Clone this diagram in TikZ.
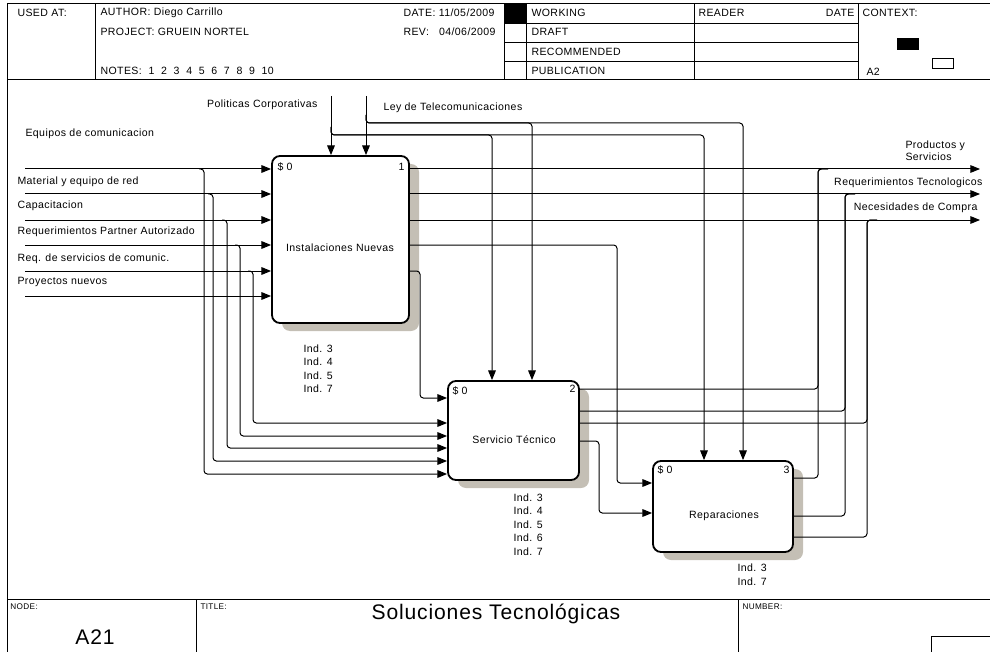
\documentclass[tikz,border=0pt]{standalone}
\usepackage{fontspec}
\setmainfont[LetterSpace=4]{Liberation Sans}
\usetikzlibrary{arrows.meta, positioning, calc}
\definecolor{shadowgray}{RGB}{196,191,181}

\begin{document}
\begin{tikzpicture}[x=0.3mm, y=-0.3mm, line width=0.3mm,
	font=\fontsize{9}{10}\selectfont,
	func/.style={draw, line width=0.55mm, rounded corners=2.4mm, fill=white, inner sep=0pt},
	shade/.style={fill=shadowgray, rounded corners=2.4mm},
	flow/.style={-{Triangle[length=2.9mm, width=2.3mm]}, rounded corners=1mm},
	pipe/.style={rounded corners=1mm},
	lbl/.style={anchor=west, inner sep=0pt},
	tiny/.style={anchor=west, inner sep=0pt, font=\fontsize{7}{8}\selectfont}]
	
	\useasboundingbox (0,0) rectangle (990,652);
	
	% Frame
	\draw (7,4) -- (990,4);
	\draw (7,4) -- (7,652);
	\draw (7,80) -- (990,80);
	\draw (7,599) -- (990,599);
	
	% Header
	\draw (95,4) -- (95,80);
	\draw (504,4) -- (504,80);
	\draw (526,4) -- (526,80);
	\draw (694,4) -- (694,80);
	\draw (858,4) -- (858,80);
	\draw (504,24) -- (858,24);
	\draw (504,43) -- (858,43);
	\draw (504,62) -- (858,62);
	\fill (504,4) rectangle (526,24);
	\fill (897,38) rectangle (919,50);
	\draw (932,59) rectangle (953,69);
	
	\node[lbl] (usedat) at (17,13) {USED AT:};
	\node[lbl] (author) at (100,13) {AUTHOR:~Diego Carrillo};
	\node[lbl] (project) at (100,32) {PROJECT:~GRUEIN NORTEL};
	\node[lbl] (notes) at (100,71) {NOTES:~~1~~2~~3~~4~~5~~6~~7~~8~~9~~10};
	\node[lbl] (date) at (403,13) {DATE: 11/05/2009};
	\node[lbl] (rev) at (403,32) {REV:~~~04/06/2009};
	\node[lbl] (working) at (531,13) {WORKING};
	\node[lbl] (draft) at (531,32) {DRAFT};
	\node[lbl] (recom) at (531,52) {RECOMMENDED};
	\node[lbl] (public) at (531,71) {PUBLICATION};
	\node[lbl] (reader) at (698,13) {READER};
	\node[anchor=east, inner sep=0pt] (rdate) at (855,13) {DATE};
	\node[lbl] (context) at (862,13) {CONTEXT:};
	\node[lbl] (ctxnode) at (866,72) {A2};
	
	% Activity boxes
	\fill[shade] (282,164) rectangle (419,331);
	\node[func, minimum width=41.1mm, minimum height=50.1mm] (a1) at (340.5,239.5) {};
	\node (a1t) at (340,248) {Instalaciones Nuevas};
	\node[lbl] (a1s) at (277,167) {\$ 0};
	\node[anchor=east, inner sep=0pt] (a1n) at (405,167) {1};
	
	\fill[shade] (458,389) rectangle (589,488);
	\node[func, minimum width=39.3mm, minimum height=29.7mm] (a2) at (513.5,430.5) {};
	\node (a2t) at (514,440) {Servicio Técnico};
	\node[lbl] (a2s) at (452,391) {\$ 0};
	\node[anchor=east, inner sep=0pt] (a2n) at (576,389) {2};
	
	\fill[shade] (663,469) rectangle (803,560);
	\node[func, minimum width=42mm, minimum height=27.3mm] (a3) at (723,506.5) {};
	\node (a3t) at (724,516) {Reparaciones};
	\node[lbl] (a3s) at (657,470) {\$ 0};
	\node[anchor=east, inner sep=0pt] (a3n) at (790,470) {3};
	
	% Indicators
	\node[lbl] (a1i3) at (303,349) {Ind. 3};
	\node[lbl] (a1i4) at (303,362) {Ind. 4};
	\node[lbl] (a1i5) at (303,376) {Ind. 5};
	\node[lbl] (a1i7) at (303,389) {Ind. 7};
	\node[lbl] (a2i3) at (513,498) {Ind. 3};
	\node[lbl] (a2i4) at (513,511) {Ind. 4};
	\node[lbl] (a2i5) at (513,525) {Ind. 5};
	\node[lbl] (a2i6) at (513,538) {Ind. 6};
	\node[lbl] (a2i7) at (513,552) {Ind. 7};
	\node[lbl] (a3i3) at (737,568) {Ind. 3};
	\node[lbl] (a3i7) at (737,582) {Ind. 7};
	
	% Inputs
	\coordinate (e1) at (25,169);
	\coordinate (e2) at (25,194);
	\coordinate (e3) at (25,220);
	\coordinate (e4) at (25,245);
	\coordinate (e5) at (25,271);
	\coordinate (e6) at (25,296);
	\node[lbl] (e1l) at (25,134) {Equipos de comunicacion};
	\node[lbl] (e2l) at (17,182) {Material y equipo de red};
	\node[lbl] (e3l) at (17,206) {Capacitacion};
	\node[lbl] (e4l) at (17,232) {Requerimientos Partner Autorizado};
	\node[lbl] (e5l) at (17,259) {Req. de servicios de comunic.};
	\node[lbl] (e6l) at (17,282) {Proyectos nuevos};
	\draw[flow] (e1) -- (e1 -| a1.west);
	\draw[flow] (e2) -- (e2 -| a1.west);
	\draw[flow] (e3) -- (e3 -| a1.west);
	\draw[flow] (e4) -- (e4 -| a1.west);
	\draw[flow] (e5) -- (e5 -| a1.west);
	\draw[flow] (e6) -- (e6 -| a1.west);
	\draw[flow] (e1 -| 199,0) -| (204,474) -- (a2.west |- 0,474);
	\draw[flow] (e2 -| 208,0) -| (213,461) -- (a2.west |- 0,461);
	\draw[flow] (e3 -| 222,0) -| (227,448) -- (a2.west |- 0,448);
	\draw[flow] (e4 -| 235,0) -| (240,436) -- (a2.west |- 0,436);
	\draw[flow] (e5 -| 248,0) -| (253,423) -- (a2.west |- 0,423);
	
	% Controls
	\coordinate (c1) at (331,96);
	\coordinate (c2) at (366,96);
	\node[anchor=east, inner sep=0pt] (c1l) at (318,105) {Politicas Corporativas};
	\node[lbl] (c2l) at (383,108) {Ley de Telecomunicaciones};
	\draw[flow] (c1) -- (c1 |- a1.north);
	\draw[flow] (c2) -- (c2 |- a1.north);
	\draw[flow] (331,127) |- (492,135) -- (a2.north -| 492,0);
	\draw[flow] (331,127) |- (704,135) -- (a3.north -| 704,0);
	\draw[flow] (366,115) |- (532,123) -- (a2.north -| 532,0);
	\draw[flow] (366,115) |- (743,123) -- (a3.north -| 743,0);
	
	% Outputs
	\coordinate (o1) at (980,169);
	\coordinate (o2) at (980,194);
	\coordinate (o3) at (980,220);
	\node[anchor=west, align=left, inner sep=0pt] (o1l) at (905,151) {Productos y\\Servicios};
	\node[anchor=east, inner sep=0pt] (o2l) at (983,183) {Requerimientos Tecnologicos};
	\node[anchor=east, inner sep=0pt] (o3l) at (978,208) {Necesidades de Compra};
	\draw[flow] (a1.east |- o1) -- (o1);
	\draw[flow] (a1.east |- o2) -- (o2);
	\draw[flow] (a1.east |- o3) -- (o3);
	\draw[flow] (a1.east |- 0,245) -| (617,483) -- (a3.west |- 0,483);
	\draw[flow] (a1.east |- 0,271) -| (420,398) -- (a2.west |- 0,398);
	\draw[pipe] (a2.east |- 0,389) -| (818,169) -- ++(10,0);
	\draw[pipe] (a2.east |- 0,411) -| (845,194) -- ++(10,0);
	\draw[pipe] (a2.east |- 0,423) -| (867,220) -- ++(10,0);
	\draw[flow] (a2.east |- 0,441) -| (599,513) -- (a3.west |- 0,513);
	\draw[pipe] (a3.east |- 0,478) -| (818,169) -- ++(10,0);
	\draw[pipe] (a3.east |- 0,516) -| (845,194) -- ++(10,0);
	\draw[pipe] (a3.east |- 0,537) -| (867,220) -- ++(10,0);
	
	% Footer
	\draw (196,599) -- (196,652);
	\draw (738,599) -- (738,652);
	\draw (931,652) -- (931,636) -- (990,636);
	\node[tiny] (nodel) at (10,607) {NODE:};
	\node[tiny] (titlel) at (200,607) {TITLE:};
	\node[tiny] (numberl) at (742,607) {NUMBER:};
	\node[font=\fontsize{18}{21}\selectfont, inner sep=0pt] (title) at (496,614) {Soluciones Tecnológicas};
	\node[font=\fontsize{18}{21}\selectfont, inner sep=0pt] (nodeid) at (95,637) {A21};
	
\end{tikzpicture}
\end{document}
